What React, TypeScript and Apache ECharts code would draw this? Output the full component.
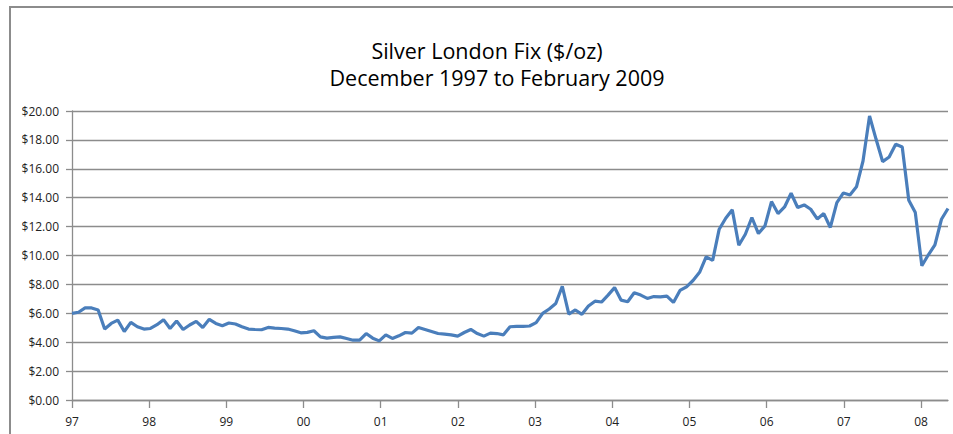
import React, { useEffect, useRef } from "react";
import * as echarts from "echarts";

// Monthly silver London fix, December 1997 .. February 2009 (135 months)
const pricesA = [6.0, 6.07, 6.37, 6.37, 6.23, 4.91, 5.3, 5.53, 4.74, 5.37, 5.07, 4.91, 4.95, 5.21, 5.56, 4.95, 5.47, 4.88, 5.19, 5.44, 5.02, 5.58, 5.3, 5.14, 5.33, 5.26, 5.07, 4.91, 4.88, 4.86, 5.02, 4.98, 4.95, 4.91, 4.79, 4.65, 4.68];
const pricesB = [4.79, 4.37, 4.28, 4.33, 4.37, 4.26, 4.14, 4.14, 4.6, 4.28, 4.09, 4.51, 4.26, 4.44, 4.67, 4.63, 5.02, 4.88, 4.74, 4.6, 4.56, 4.51, 4.42, 4.67, 4.88, 4.6, 4.42, 4.63, 4.6, 4.51, 5.07, 5.09, 5.09, 5.12, 5.35, 6.0, 6.3];
const pricesC = [6.68, 7.87, 5.95, 6.23, 5.93, 6.5, 6.84, 6.78, 7.26, 7.78, 6.91, 6.8, 7.42, 7.26, 7.03, 7.16, 7.14, 7.19, 6.75, 7.58, 7.83, 8.27, 8.84, 9.9, 9.66];
const pricesD = [11.82, 12.58, 13.16, 10.71, 11.47, 12.63, 11.52, 12.05, 13.73, 12.9, 13.36, 14.31, 13.32, 13.5, 13.2, 12.53, 12.9, 11.94, 13.66, 14.33, 14.19, 14.75, 16.54, 19.65, 18.04, 16.5, 16.82, 17.7, 17.51, 13.82, 12.97, 9.29, 10.05, 10.74, 12.51, 13.25];
const prices = [...pricesA, ...pricesB, ...pricesC, ...pricesD];

const yearLabels = ["97", "98", "99", "00", "01", "02", "03", "04", "05", "06", "07", "08"];

const titleLines = ["Silver London Fix ($/oz)", "December 1997 to February 2009"];

function buildMonths(count: number): string[] {
  const out: string[] = [];
  let y = 1997;
  let m = 12;
  for (let i = 0; i < count; i++) {
    out.push(`${y}-${String(m).padStart(2, "0")}`);
    m++;
    if (m > 12) {
      m = 1;
      y++;
    }
  }
  return out;
}
const months = buildMonths(prices.length);

const FONT = "'Open Sans', 'Noto Sans', sans-serif";
const GRAY = "#8c8c8c";

export default function App() {
  const ref = useRef<HTMLDivElement>(null);
  useEffect(() => {
    if (!ref.current) return;
    const chart = echarts.init(ref.current, undefined, { renderer: "svg" });
    chart.setOption({
      animation: false,
      backgroundColor: "#ffffff",
      textStyle: { fontFamily: FONT },
      graphic: [
        {
          type: "rect",
          silent: true,
          shape: { x: 10, y: 7, width: 1000, height: 500 },
          style: { fill: "none", stroke: GRAY, lineWidth: 2 },
        },
        {
          type: "text",
          x: 487,
          y: 50,
          style: {
            text: titleLines[0],
            fontSize: 21.5,
            fontFamily: FONT,
            fill: "#000",
            align: "center",
            verticalAlign: "middle",
          },
        },
        {
          type: "text",
          x: 497,
          y: 77,
          style: {
            text: titleLines[1],
            fontSize: 21.5,
            fontFamily: FONT,
            fill: "#000",
            align: "center",
            verticalAlign: "middle",
          },
        },
      ],
      grid: [
        { left: 72, right: 5, top: 111, bottom: 34 },
        { left: 72, width: 849, top: 111, bottom: 34 },
      ],
      xAxis: [
        {
          type: "category",
          gridIndex: 0,
          data: months,
          boundaryGap: false,
          axisLine: { lineStyle: { color: GRAY, width: 1.3 } },
          axisTick: { show: false },
          axisLabel: { show: false },
          splitLine: { show: false },
        },
        {
          type: "value",
          gridIndex: 1,
          min: 0,
          max: yearLabels.length - 1,
          interval: 1,
          axisLine: { show: false },
          axisTick: { show: true, length: 8, lineStyle: { color: GRAY, width: 1.3 } },
          axisLabel: {
            formatter: (v: number) => yearLabels[v] ?? "",
            fontSize: 12,
            color: "#222",
            fontFamily: FONT,
            margin: 15,
          },
          splitLine: { show: false },
        },
      ],
      yAxis: [
        {
          type: "value",
          gridIndex: 0,
          min: 0,
          max: 20,
          interval: 2,
          axisLine: { show: true, lineStyle: { color: GRAY, width: 1.3 } },
          axisTick: { show: true, length: 6, lineStyle: { color: GRAY, width: 1.3 } },
          axisLabel: {
            formatter: (v: number) => "$" + v.toFixed(2),
            fontSize: 12,
            color: "#222",
            fontFamily: FONT,
            margin: 13,
          },
          splitLine: { show: true, lineStyle: { color: GRAY, width: 1.3 } },
        },
        { type: "value", gridIndex: 1, min: 0, max: 1, show: false },
      ],
      series: [
        {
          type: "line",
          xAxisIndex: 0,
          yAxisIndex: 0,
          data: prices,
          symbol: "none",
          showSymbol: false,
          lineStyle: { color: "#4a7ebb", width: 3.2 },
        },
      ],
    });
    return () => chart.dispose();
  }, []);
  return (
    <div
      ref={ref}
      style={{ position: "absolute", left: 0, top: 0, width: 953, height: 434 }}
    />
  );
}
